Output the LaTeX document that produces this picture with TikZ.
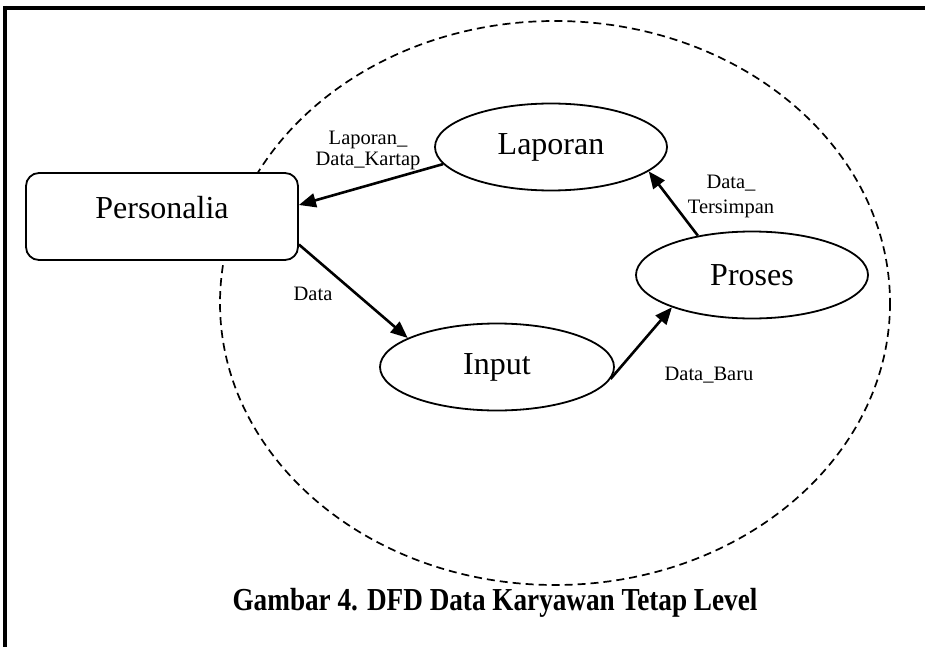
\documentclass[tikz,border=0pt]{standalone}
\usepackage{fontspec}
\usepackage{graphicx}
\setmainfont{Liberation Serif}
\usetikzlibrary{arrows.meta,shapes.geometric}
\begin{document}
\begin{tikzpicture}[x=1pt,y=-1pt,
  bigtext/.style={font=\fontsize{32}{36}\selectfont},
  proc/.style={draw,fill=white,ellipse,line width=1.8pt,inner sep=0pt,minimum width=232pt,minimum height=87pt,bigtext},
  entity/.style={draw,fill=white,rectangle,rounded corners=13pt,line width=1.8pt,inner sep=0pt,minimum width=272pt,minimum height=87pt},
  flow/.style={line width=2.6pt,-{Triangle[length=17pt,width=14pt]}},
  lbl/.style={font=\fontsize{20.5}{21}\selectfont,align=center,inner sep=0pt},
  lblwide/.style={font=\fontsize{20.5}{25}\selectfont,align=center,inner sep=0pt},
  frameline/.style={line width=4pt},
  boundary/.style={line width=1.7pt,dash pattern=on 8pt off 5pt}
  ]
\useasboundingbox (0,0) rectangle (925,647);
\fill[white] (0,0) rectangle (925,647);
% frame
\draw[frameline] (3,8) -- (925,8);
\draw[frameline] (5,6) -- (5,647);
% system boundary
\draw[boundary] (555,303) ellipse [x radius=335, y radius=282];
% nodes
\node[entity,label={[bigtext,yshift=9pt]center:Personalia}] (pers) at (162,216.5) {};
\node[proc] (lap) at (551,147) {Laporan};
\node[proc] (pro) at (752,275) {Proses};
\node[proc,minimum width=234pt] (inp) at (497,367) {Input};
% flows
\draw[flow] (lap.189) -- ([yshift=11.5pt]pers.east);
\draw[flow] ([yshift=-28pt]pers.east) -- (inp.162.5);
\draw[flow] (inp.354) -- (pro.202);
\draw[flow] (pro.144) -- (lap.346);
% labels
\node[lbl] (l1) at (368,150) {Laporan\_\\Data\_Kartap};
\node[lbl] (l2) at (313,294) {Data};
\node[lbl] (l3) at (709,375) {Data\_Baru};
\node[lblwide] (l4) at (731,196) {Data\_\\Tersimpan};
% caption
\node[anchor=base,inner sep=0pt] (cap) at (495,610) {\scalebox{0.85}[1]{\fontsize{32}{36}\selectfont\bfseries Gambar 4. DFD Data Karyawan Tetap Level}};
\end{tikzpicture}
\end{document}
